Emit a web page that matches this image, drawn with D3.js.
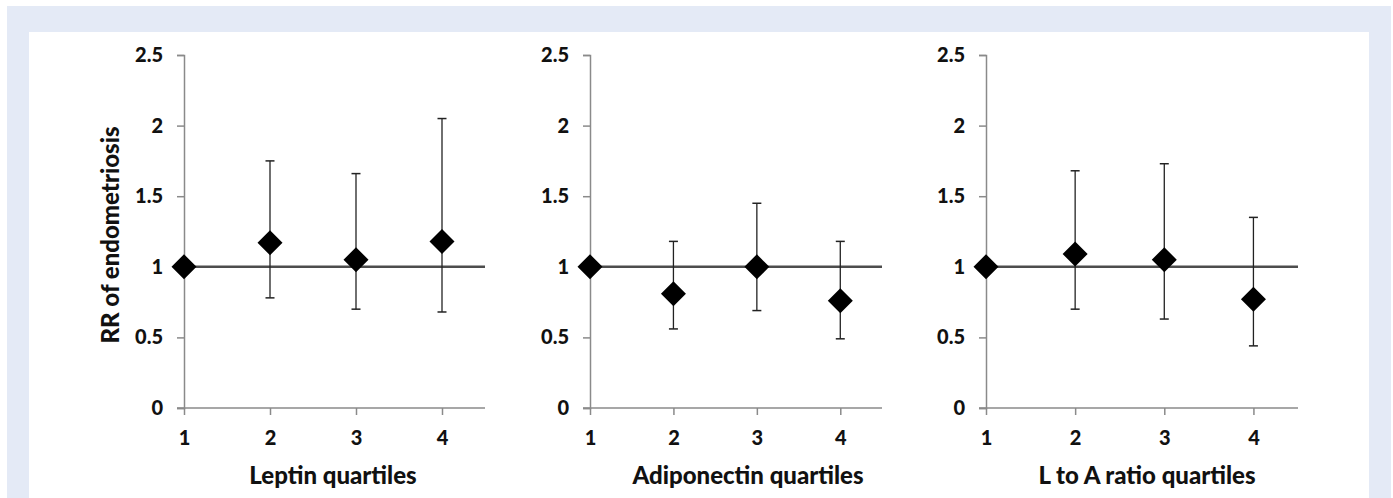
<!DOCTYPE html>
<html>
<head>
<meta charset="utf-8">
<script src="https://cdn.jsdelivr.net/npm/d3@7"></script>
<style>
  html, body { margin: 0; padding: 0; background: #ffffff; }
  svg { display: block; }
  text { font-family: Lato, "Open Sans", sans-serif; font-weight: 900; fill: #111; }
</style>
</head>
<body>
<script>
// quartile categories and y ticks
var quartiles = [1, 2, 3, 4];
var yTicks = [0, 0.5, 1, 1.5, 2, 2.5];
var xTitles = ["Leptin quartiles", "Adiponectin quartiles", "L to A ratio quartiles"];

// relative risk (point, lower, upper) per quartile, Q1 is the reference
var leptinRR = [1.0, 1.17, 1.05, 1.18];
var leptinLo = [1.0, 0.78, 0.70, 0.68];
var leptinHi = [1.0, 1.75, 1.66, 2.05];

var adipoRR = [1.0, 0.81, 1.0, 0.76];
var adipoLo = [1.0, 0.56, 0.69, 0.49];
var adipoHi = [1.0, 1.18, 1.45, 1.18];

var ratioRR = [1.0, 1.09, 1.05, 0.77];
var ratioLo = [1.0, 0.70, 0.63, 0.44];
var ratioHi = [1.0, 1.68, 1.73, 1.35];

var W = 1393, H = 498;

var svg = d3.select("body").append("svg")
    .attr("width", W)
    .attr("height", H);

// light blue frame around the figure
svg.append("rect").attr("width", W).attr("height", H).attr("fill", "#ffffff");
svg.append("rect").attr("x", 7).attr("y", 6).attr("width", 1384).attr("height", H - 6).attr("fill", "#e4eaf6");
svg.append("rect").attr("x", 29).attr("y", 32).attr("width", 1340).attr("height", H - 32).attr("fill", "#ffffff");

var y = d3.scaleLinear().domain([0, 2.5]).range([408, 55]);

var panels = [
    { left: 184, right: 485, titleX: 333, rr: leptinRR, lo: leptinLo, hi: leptinHi, title: xTitles[0] },
    { left: 590, right: 882, titleX: 748, rr: adipoRR, lo: adipoLo, hi: adipoHi, title: xTitles[1] },
    { left: 986, right: 1298, titleX: 1147, rr: ratioRR, lo: ratioLo, hi: ratioHi, title: xTitles[2] }
];

var axisColor = "#8a8a8a";

panels.forEach(function (p, i) {
    var x = d3.scaleLinear().domain([1, 4.5]).range([p.left, p.right]);
    var g = svg.append("g");

    // y axis
    var ya = g.append("g")
        .attr("transform", "translate(" + p.left + ",0)")
        .call(d3.axisLeft(y).tickValues(yTicks).tickSize(7).tickPadding(14)
            .tickFormat(function (d) { return String(d); }));
    ya.attr("font-size", null).attr("font-family", null);
    ya.select(".domain").attr("stroke", axisColor).attr("stroke-width", 1.5);
    ya.selectAll(".tick line").attr("stroke", axisColor).attr("stroke-width", 1.5);
    ya.selectAll(".tick text").style("font-size", "20px").attr("fill", "#111");

    // x axis
    var xa = g.append("g")
        .attr("transform", "translate(0," + y(0) + ")")
        .call(d3.axisBottom(x).tickValues(quartiles).tickSize(7).tickPadding(16)
            .tickFormat(function (d) { return String(d); }));
    xa.attr("font-size", null).attr("font-family", null);
    xa.select(".domain").attr("stroke", axisColor).attr("stroke-width", 1.5)
        .attr("d", "M" + (p.left - 7) + ",0H" + p.right);
    xa.selectAll(".tick line").attr("stroke", axisColor).attr("stroke-width", 1.5);
    xa.selectAll(".tick text").style("font-size", "20px").attr("fill", "#111");

    // x title
    g.append("text")
        .attr("x", p.titleX)
        .attr("y", 484)
        .attr("text-anchor", "middle")
        .style("font-size", "24px")
        .text(p.title);

    // reference line at RR = 1
    g.append("line")
        .attr("x1", p.left).attr("x2", p.right)
        .attr("y1", y(1)).attr("y2", y(1))
        .attr("stroke", "#4d4d4d")
        .attr("stroke-width", 2.5);

    // error bars (not for the reference quartile)
    var bars = g.selectAll(".err")
        .data(quartiles.slice(1))
        .enter().append("g").attr("class", "err");
    bars.append("line")
        .attr("x1", function (d) { return x(d); })
        .attr("x2", function (d) { return x(d); })
        .attr("y1", function (d) { return y(p.lo[d - 1]); })
        .attr("y2", function (d) { return y(p.hi[d - 1]); })
        .attr("stroke", "#222").attr("stroke-width", 1.3);
    [p.lo, p.hi].forEach(function (arr) {
        bars.append("line")
            .attr("x1", function (d) { return x(d) - 4.5; })
            .attr("x2", function (d) { return x(d) + 4.5; })
            .attr("y1", function (d) { return y(arr[d - 1]); })
            .attr("y2", function (d) { return y(arr[d - 1]); })
            .attr("stroke", "#222").attr("stroke-width", 1.5);
    });

    // diamond markers
    g.selectAll(".pt")
        .data(quartiles)
        .enter().append("path")
        .attr("class", "pt")
        .attr("transform", function (d) { return "translate(" + x(d) + "," + y(p.rr[d - 1]) + ")"; })
        .attr("d", "M0,-12.5L12.5,0L0,12.5L-12.5,0Z")
        .attr("fill", "#000");
});

// y axis title
svg.append("text")
    .attr("transform", "translate(119,235) rotate(-90)")
    .attr("text-anchor", "middle")
    .style("font-size", "24px")
    .text("RR of endometriosis");
</script>
</body>
</html>
